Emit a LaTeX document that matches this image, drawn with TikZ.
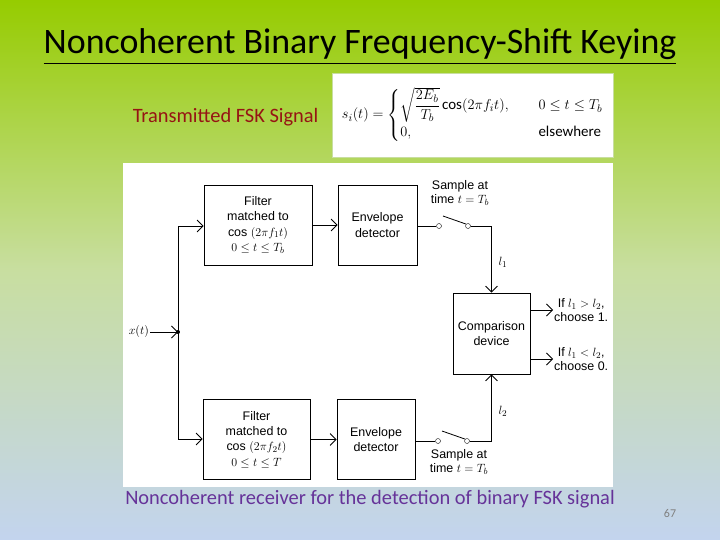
\documentclass[tikz,border=0pt]{standalone}
\usepackage{fontspec}
\setmainfont{Carlito}
\setsansfont{Liberation Sans}
\usepackage{amsmath}
\usetikzlibrary{positioning,arrows.meta}
\definecolor{topgreen}{RGB}{150,204,0}
\definecolor{midgreen}{RGB}{200,222,160}
\definecolor{botblue}{RGB}{195,212,238}
\definecolor{capcol}{RGB}{102,51,153}
\definecolor{sigcol}{RGB}{150,20,20}
\begin{document}
\begin{tikzpicture}[x=1bp,y=-1bp,>={Straight Barb[length=6pt]},
  blk/.style={draw,thick,minimum width=#1,minimum height=80bp,align=center,inner sep=0pt,font=\sffamily\fontsize{12.5}{15.5}\selectfont},
  blk/.default=80bp,
  lbl/.style={font=\sffamily\fontsize{12.5}{14}\selectfont,align=center,inner sep=1pt},
  sw/.style={circle,draw,inner sep=0pt,minimum size=5pt,fill=white},
  wire/.style={thick}]
\useasboundingbox (0,0) rectangle (720,540);
\shade[top color=topgreen,bottom color=botblue,middle color=midgreen] (0,0) rectangle (720,540);
% title and signal
\node (title) at (360,47) {\fontsize{36}{40}\selectfont\underline{Noncoherent Binary Frequency-Shift Keying}};
\node[text=sigcol,anchor=east] (txlbl) at (322,117) {\fontsize{20.5}{24}\selectfont Transmitted FSK Signal};
\node[fill=white,draw=midgreen,minimum width=281bp,minimum height=84bp,anchor=north west,font=\fontsize{15}{17}\selectfont] (formula) at (332,73)
  {$\displaystyle s_i(t)=\begin{cases}\sqrt{\dfrac{2E_b}{T_b}}\,\textrm{cos}(2\pi f_i t), & \quad 0\le t\le T_b\\[2pt] 0, & \quad \textrm{elsewhere}\end{cases}$};
% receiver
\fill[white] (123,163) rectangle (613,487);
\node[blk=108bp] (filt1) at (258,225) {Filter\\matched to\\cos $(2\pi f_1 t)$\\$0\le t\le T_b$};
\node[blk=79bp] (env1) at (377.5,225) {Envelope\\detector};
\node[blk=107bp] (filt2) at (256.5,439.5) {Filter\\matched to\\cos $(2\pi f_2 t)$\\$0\le t\le T$};
\node[blk=78bp] (env2) at (376,439.5) {Envelope\\detector};
\node[draw,thick,minimum width=77bp,minimum height=81bp,align=center,font=\sffamily\fontsize{12.5}{15.5}\selectfont] (comp) at (491.5,333.5) {Comparison\\device};
\node[lbl,anchor=east] (xin) at (150,332) {$x(t)$};
\coordinate (jn) at (178,332);
\fill (jn) circle (2pt);
\node[sw] (s1a) at (439,226) {};
\node[sw] (s1b) at (468,226) {};
\node[sw] (s2a) at (438,441) {};
\node[sw] (s2b) at (467,441) {};
\node[lbl] (samp1) at (460,193) {Sample at\\time $t=T_b$};
\node[lbl] (samp2) at (459,462) {Sample at\\time $t=T_b$};
\node[lbl] (l1) at (503,262) {$l_1$};
\node[lbl] (l2) at (503,411) {$l_2$};
\node[lbl,anchor=west] (out1) at (553,310) {If $l_1>l_2$,\\choose 1.};
\node[lbl,anchor=west] (out2) at (553,359) {If $l_1<l_2$,\\choose 0.};
% connectors
\draw[wire,->] (xin) -- (jn);
\draw[wire,->] (jn) |- (filt1.west |- 0,226);
\draw[wire,->] (jn) |- (filt2.west |- 0,439);
\draw[wire,->] (filt1) -- (env1);
\draw[wire,->] (filt2) -- (env2);
\draw[wire] (env1.east |- s1a) -- (s1a);
\draw[wire] (env2.east |- s2a) -- (s2a);
\draw[wire] (s1a) ++(4,-10) -- (s1b.north west);
\draw[wire] (s2a) ++(4,-10) -- (s2b.north west);
\draw[wire,->] (s1b) -| (comp.north);
\draw[wire,->] (s2b) -| (comp.south);
\draw[wire,->] (comp.east |- out1) -- (out1);
\draw[wire,->] (comp.east |- out2) -- (out2);
% caption
\node[text=capcol] (cap) at (370,499) {\fontsize{20.5}{24}\selectfont Noncoherent receiver for the detection of binary FSK signal};
\node[text=gray] (pg) at (670,514) {\fontsize{12}{14}\selectfont 67};
\end{tikzpicture}
\end{document}
